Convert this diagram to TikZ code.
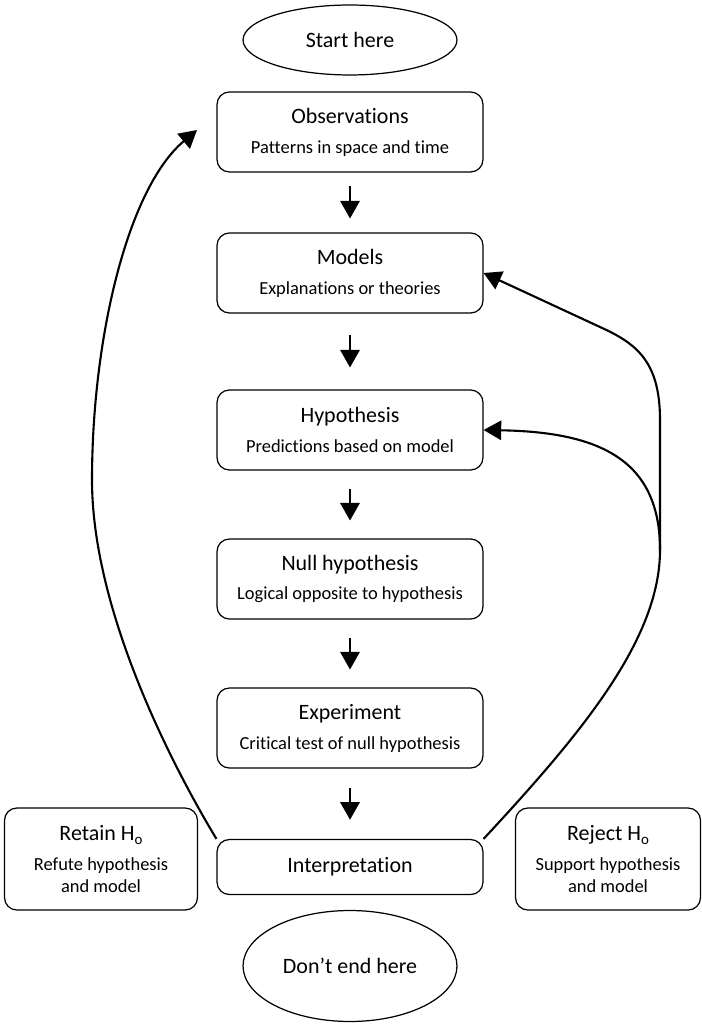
\documentclass[tikz,border=0pt]{standalone}
\usepackage{fontspec}
\setmainfont{Carlito}[Ligatures={NoCommon,NoContextual}]
\usetikzlibrary{arrows.meta,shapes.geometric,calc}

\newcommand\headfont{\fontsize{12.5}{17}\selectfont}
\newcommand\subfont{\fontsize{10.5}{12.5}\selectfont}
\newcommand\lowo{\raisebox{-0.45ex}{\fontsize{8.5}{9}\selectfont o}}

\begin{document}
\begin{tikzpicture}[x=0.02cm, y=-0.02cm,
    box/.style={draw, rounded corners=7pt, line width=0.7pt, align=center,
      inner sep=0pt, minimum width=5.32cm, minimum height=1.6cm, font=\headfont},
    sidebox/.style={box, minimum width=3.86cm, minimum height=2.04cm},
    ovalbox/.style={draw, ellipse, line width=0.7pt, inner sep=0pt,
      minimum width=4.28cm, minimum height=1.4cm, font=\headfont},
    downarr/.style={line width=1.2pt, -{Triangle[length=10pt,width=11pt]}},
    looparr/.style={line width=1.2pt, -{Triangle[length=10pt,width=11pt]}}]
    \useasboundingbox (0,0) rectangle (701,1026);

    % main column
    \node[ovalbox] (start) at (350,40) {Start here};
    \node[box] (obs) at (350,132)
      {Observations\\\subfont Patterns in space and time};
    \node[box] (models) at (350,273)
      {Models\\\subfont Explanations or theories};
    \node[box] (hyp) at (350,430)
      {Hypothesis\\\subfont Predictions based on model};
    \node[box] (null) at (350,579)
      {Null hypothesis\\\subfont Logical opposite to hypothesis};
    \node[box] (exp) at (350,728)
      {Experiment\\\subfont Critical test of null hypothesis};
    \node[box, minimum height=1.1cm] (interp) at (350,867) {Interpretation};
    \node[ovalbox, minimum height=2.22cm] (stop) at (350,966) {Don’t end here};

    % outcomes
    \node[sidebox] (retain) at (101,859)
      {Retain H\lowo\\\subfont Refute hypothesis\\[-4pt]\subfont and model};
    \node[sidebox, minimum width=3.7cm] (reject) at (608,859)
      {Reject H\lowo\\\subfont Support hypothesis\\[-4pt]\subfont and model};

    \foreach \a/\b in {obs/models, models/hyp, hyp/null, null/exp, exp/interp}
      \draw[downarr] ($(\a.south)!0.5!(\b.north)+(0,-16)$)
        -- ($(\a.south)!0.5!(\b.north)+(0,16)$);

    % loop back on the left
    \coordinate (lmid) at (92,480);
    \coordinate (ltip) at (197,130);
    \draw[looparr] (interp.north west) .. controls (160,745) and (92,600) .. (lmid)
      .. controls (92,340) and (127,189) .. (ltip);

    % loops back on the right
    \coordinate (rjoin) at (660,550);
    \coordinate (rtop) at (660,420);
    \coordinate (rbend) at (600,327);
    \draw[looparr] (interp.north east) .. controls (580,735) and (660,640) .. (rjoin)
      -- (rtop) .. controls (660,360) and (635,343) .. (rbend) -- (models.east);
    \draw[looparr] (rjoin) .. controls (660,460) and (600,432) .. (hyp.east);

  \end{tikzpicture}
\end{document}
